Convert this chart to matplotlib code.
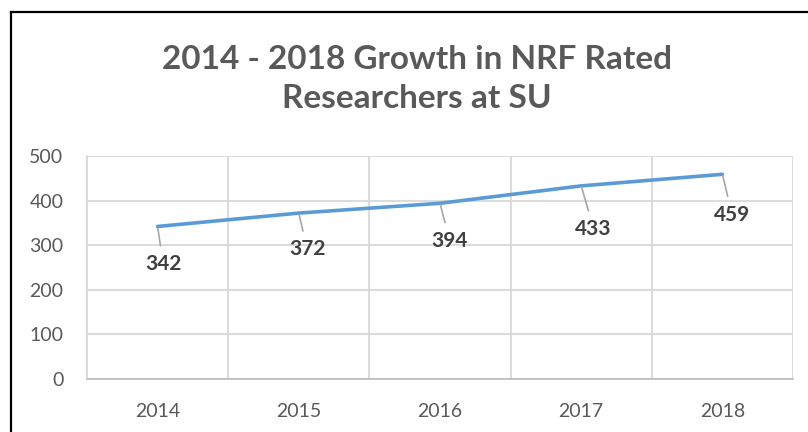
import matplotlib.pyplot as plt
from matplotlib.lines import Line2D

years = ["2014", "2015", "2016", "2017", "2018"]
researchers = [342, 372, 394, 433, 459]
y_ticks = [0, 100, 200, 300, 400, 500]
# label offsets (points) below the markers, like the Excel chart
label_offsets = [(4, -27), (6, -26), (7, -27), (9, -31), (7, -29)]

plt.rcParams["font.family"] = ["Lato", "DejaVu Sans"]

fig = plt.figure(figsize=(8.08, 4.32), dpi=100)
ax = fig.add_axes([87/808, 53/432, 706/808, 223/432])

x = list(range(len(years)))
ax.plot(x, researchers, color="#5b9bd5", lw=2.6, solid_capstyle="round", zorder=3)

for i, v in enumerate(researchers):
    ax.annotate(str(v), xy=(i, v), xytext=label_offsets[i], textcoords="offset points",
                ha="center", va="center", fontsize=15, fontweight="bold", color="#404040",
                arrowprops=dict(arrowstyle="-", color="#a6a6a6", lw=1.2, shrinkA=4, shrinkB=1))

ax.set_xlim(-0.5, len(years) - 0.5)
ax.set_ylim(0, 500)
ax.set_yticks(y_ticks)
ax.set_xticks(x)
ax.set_xticklabels(years)
ax.set_xticks([i - 0.5 for i in range(len(years) + 1)], minor=True)

ax.grid(axis="y", which="major", color="#d9d9d9", lw=1.3)
ax.grid(axis="x", which="minor", color="#d9d9d9", lw=1.3)
ax.grid(axis="x", which="major", visible=False)
ax.tick_params(which="both", length=0)
ax.tick_params(axis="y", pad=17, labelsize=14, labelcolor="#595959")
ax.tick_params(axis="x", pad=17, labelsize=14, labelcolor="#595959")
for s in ["top", "right"]:
    ax.spines[s].set_visible(False)
ax.spines["left"].set_color("#d9d9d9")
ax.spines["bottom"].set_color("#bfbfbf")
ax.spines["left"].set_linewidth(1.3)
ax.spines["bottom"].set_linewidth(1.3)

fig.text(417/808, 1 - 79/432, "2014 - 2018 Growth in NRF Rated\nResearchers at SU",
         ha="center", va="center", fontsize=24, fontweight="bold", color="#595959",
         linespacing=1.45)

# black frame at top and left (image is cropped)
fig.add_artist(Line2D([11/808, 11/808], [0, 1 - 12/432], color="black", lw=1.6))
fig.add_artist(Line2D([11/808, 1], [1 - 12/432, 1 - 12/432], color="black", lw=1.6))

fig.savefig("out.png", dpi=100)
